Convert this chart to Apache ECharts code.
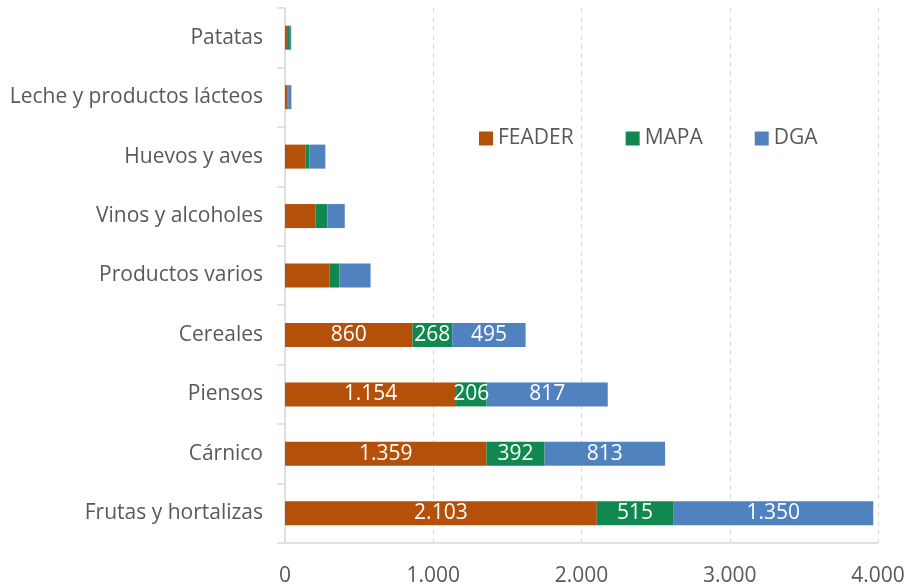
<!DOCTYPE html>
<html><head><meta charset="utf-8">
<script src="https://cdn.jsdelivr.net/npm/echarts@6/dist/echarts.min.js"></script>
<style>html,body{margin:0;padding:0;background:#fff}#c{width:910px;height:588px}</style>
</head><body><div id="c"></div>
<script>
const categories = ['Frutas y hortalizas','Cárnico','Piensos','Cereales','Productos varios','Vinos y alcoholes','Huevos y aves','Leche y productos lácteos','Patatas'];
const feader = [2103, 1359, 1154, 860, 299, 207, 137, 16, 20];
const mapa   = [515, 392, 206, 268, 67, 79, 27, 5, 7];
const dga    = [1350, 813, 817, 495, 211, 117, 108, 22, 15];
const labeled = [true, true, true, true, false, false, false, false, false];
const xTicks = [0, 1000, 2000, 3000, 4000];

const fmt = v => String(v).replace(/\B(?=(\d{3})+(?!\d))/g, '.');
const FONT = '"Open Sans", "Noto Sans", sans-serif';
const FS = 21;

function mk(name, arr, color) {
  return {
    name, type: 'bar', stack: 'total', barWidth: 24,
    itemStyle: { color },
    data: arr.map((v, i) => ({
      value: v,
      label: { show: labeled[i] }
    })),
    label: {
      position: 'inside', color: '#fff', fontSize: FS, fontFamily: FONT,
      formatter: p => fmt(p.value)
    }
  };
}

const chart = echarts.init(document.getElementById('c'));
chart.setOption({
  animation: false,
  grid: { left: 285, right: 32, top: 8, bottom: 45, containLabel: false },
  legend: {
    left: 474, top: 123, itemWidth: 14, itemHeight: 14, itemGap: 52,
    icon: 'rect',
    textStyle: { color: '#595959', fontSize: FS, fontFamily: FONT },
    data: ['FEADER', 'MAPA', 'DGA']
  },
  xAxis: {
    type: 'value', min: xTicks[0], max: xTicks[xTicks.length - 1], interval: 1000,
    axisLine: { show: true, lineStyle: { color: '#d9d9d9', width: 1.5 } },
    axisTick: { show: false },
    splitLine: { show: true, lineStyle: { color: '#d9d9d9', type: [5, 4], width: 1 } },
    axisLabel: { color: '#595959', fontSize: FS, fontFamily: FONT, margin: 23, formatter: v => fmt(v) }
  },
  yAxis: {
    type: 'category', data: categories,
    axisLine: { show: true, lineStyle: { color: '#d9d9d9', width: 1.5 } },
    axisTick: { show: true, length: 8, lineStyle: { color: '#d9d9d9', width: 1.5 } },
    axisLabel: { color: '#595959', fontSize: FS, fontFamily: FONT, margin: 22 }
  },
  series: [
    mk('FEADER', feader, '#B4500A'),
    mk('MAPA', mapa, '#11884F'),
    mk('DGA', dga, '#5082C0')
  ]
});
</script></body></html>
